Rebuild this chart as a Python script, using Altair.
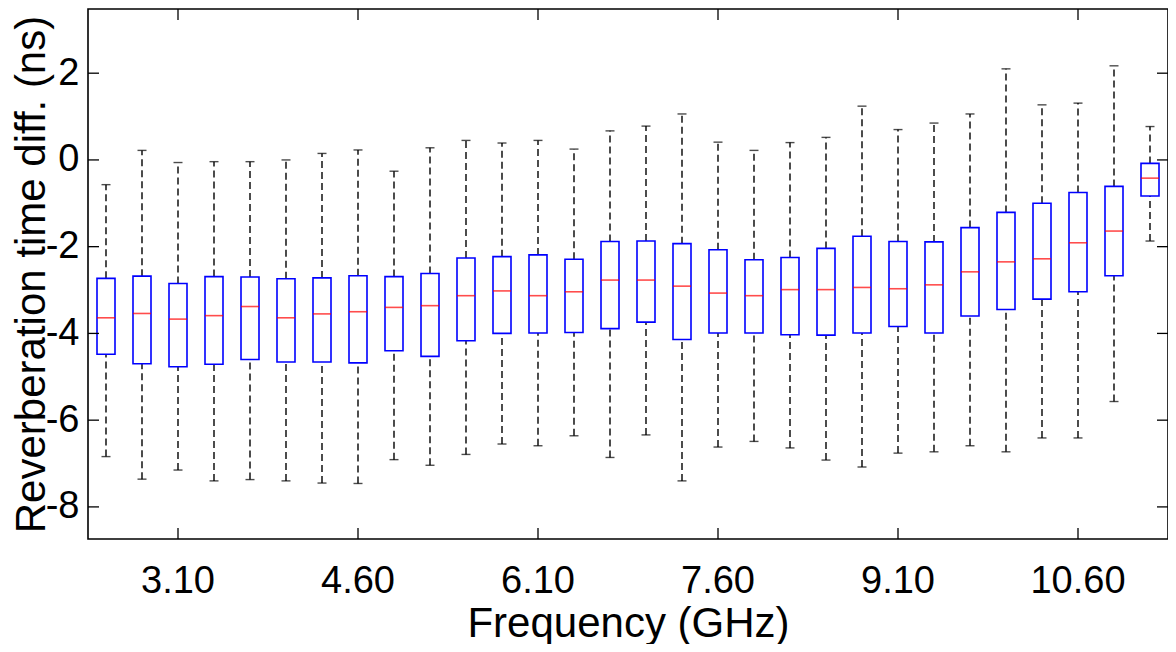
import altair as alt
import pandas as pd

# ---- data ----
freq = ["2.50", "2.80", "3.10", "3.40", "3.70", "4.00", "4.30", "4.60", "4.90", "5.20",
        "5.50", "5.80", "6.10", "6.40", "6.70", "7.00", "7.30", "7.60", "7.90", "8.20",
        "8.50", "8.80", "9.10", "9.40", "9.70", "10.00", "10.30", "10.60", "10.90", "11.20"]

whisker_high = [-0.57, 0.22, -0.06, -0.04, -0.04, 0.00, 0.15, 0.23, -0.26, 0.28,
                0.45, 0.39, 0.45, 0.25, 0.67, 0.78, 1.06, 0.41, 0.22, 0.40,
                0.52, 1.24, 0.70, 0.85, 1.06, 2.10, 1.27, 1.31, 2.17, 0.77]
q3 = [-2.73, -2.68, -2.85, -2.69, -2.70, -2.74, -2.72, -2.67, -2.69, -2.62,
      -2.26, -2.23, -2.19, -2.29, -1.88, -1.87, -1.93, -2.07, -2.30, -2.25,
      -2.04, -1.76, -1.88, -1.89, -1.56, -1.21, -1.00, -0.75, -0.61, -0.08]
median = [-3.64, -3.54, -3.67, -3.59, -3.38, -3.64, -3.55, -3.50, -3.40, -3.36,
          -3.13, -3.02, -3.13, -3.04, -2.77, -2.77, -2.91, -3.07, -3.13, -2.99,
          -2.99, -2.94, -2.97, -2.88, -2.58, -2.35, -2.28, -1.91, -1.64, -0.42]
q1 = [-4.48, -4.70, -4.77, -4.71, -4.60, -4.66, -4.66, -4.68, -4.40, -4.53,
      -4.17, -4.00, -3.99, -3.98, -3.89, -3.74, -4.14, -3.99, -3.99, -4.03,
      -4.04, -3.99, -3.84, -3.99, -3.60, -3.45, -3.21, -3.04, -2.67, -0.83]
whisker_low = [-6.84, -7.36, -7.15, -7.40, -7.37, -7.40, -7.45, -7.46, -6.91, -7.04,
               -6.79, -6.55, -6.59, -6.36, -6.86, -6.34, -7.40, -6.62, -6.49, -6.64,
               -6.92, -7.08, -6.76, -6.73, -6.59, -6.73, -6.41, -6.41, -5.57, -1.87]

x_tick_labels = ["3.10", "4.60", "6.10", "7.60", "9.10", "10.60"]
y_tick_values = [-8, -6, -4, -2, 0, 2]
y_domain = [-8.74, 3.48]

W = 1080
H = 530
TICK = 11
FONT = "Liberation Sans"

df = pd.DataFrame({"freq": freq, "lo": whisker_low, "q1": q1, "med": median,
                   "q3": q3, "hi": whisker_high})
df_xt = pd.DataFrame({"freq": x_tick_labels})
df_yt = pd.DataFrame({"v": y_tick_values})

x_axis = alt.Axis(values=x_tick_labels, ticks=False, domain=False, grid=False,
                  labelAngle=0, labelFont=FONT, labelFontSize=38, labelColor="black",
                  labelPadding=23, labelBaseline="top",
                  title="Frequency (GHz)", titleFont=FONT, titleFontSize=42,
                  titleFontWeight="normal", titleColor="black",
                  titleBaseline="alphabetic", titleY=97)
x_scale = alt.Scale(domain=freq, paddingInner=0, paddingOuter=0)

y_axis = alt.Axis(values=y_tick_values, ticks=False, domain=False, grid=False,
                  labelExpr="'' + datum.value",
                  labelFont=FONT, labelFontSize=38, labelColor="black", labelPadding=9,
                  title="Reverberation time diff. (ns)", titleFont=FONT, titleFontSize=42,
                  titleFontWeight="normal", titleColor="black", titleAngle=270,
                  titleAlign="center", titleBaseline="alphabetic",
                  titleX=-44, titleY=265)
y_scale = alt.Scale(domain=y_domain, nice=False, zero=False)


def X(center=False):
    if center:
        return alt.X("freq:N", sort=freq, scale=x_scale, axis=x_axis, bandPosition=0.5)
    return alt.X("freq:N", sort=freq, scale=x_scale, axis=x_axis)


def Y(field):
    return alt.Y(f"{field}:Q", scale=y_scale, axis=y_axis)


base = alt.Chart(df)

whisk_up = base.mark_rule(color="black", strokeDash=[7, 4], strokeWidth=1.4).encode(
    x=X(True), y=Y("q3"), y2="hi")
whisk_lo = base.mark_rule(color="black", strokeDash=[7, 4], strokeWidth=1.4).encode(
    x=X(True), y=Y("lo"), y2="q1")
boxes = base.mark_bar(fill="white", stroke="#0000ff", strokeWidth=1.6,
                      width=alt.RelativeBandSize(0.5)).encode(
    x=X(), y=Y("q1"), y2="q3")
med = base.mark_tick(color="#ff0000", thickness=1.6, size=18).encode(
    x=X(), y=Y("med"))
cap_hi = base.mark_tick(color="black", thickness=1.4, size=9).encode(x=X(), y=Y("hi"))
cap_lo = base.mark_tick(color="black", thickness=1.4, size=9).encode(x=X(), y=Y("lo"))

xt_bottom = alt.Chart(df_xt).mark_rule(color="black", strokeWidth=1.3).encode(
    x=X(True), y=alt.value(H), y2=alt.value(H - TICK))
xt_top = alt.Chart(df_xt).mark_rule(color="black", strokeWidth=1.3).encode(
    x=X(True), y=alt.value(0), y2=alt.value(TICK))
yt_left = alt.Chart(df_yt).mark_rule(color="black", strokeWidth=1.3).encode(
    y=Y("v"), x=alt.value(0), x2=alt.value(TICK))
yt_right = alt.Chart(df_yt).mark_rule(color="black", strokeWidth=1.3).encode(
    y=Y("v"), x=alt.value(W - TICK), x2=alt.value(W))

chart = alt.layer(
    whisk_up, whisk_lo, boxes, med, cap_hi, cap_lo,
    xt_bottom, xt_top, yt_left, yt_right
).properties(
    width=W, height=H,
    autosize=alt.AutoSizeParams(type="none"),
    padding={"left": 80, "top": 1, "right": 0, "bottom": 105},
).configure(
    font=FONT, background="white"
).configure_view(
    stroke="black", strokeWidth=1.6
)

chart.save("out.html", embed_options={"renderer": "svg", "actions": False})
